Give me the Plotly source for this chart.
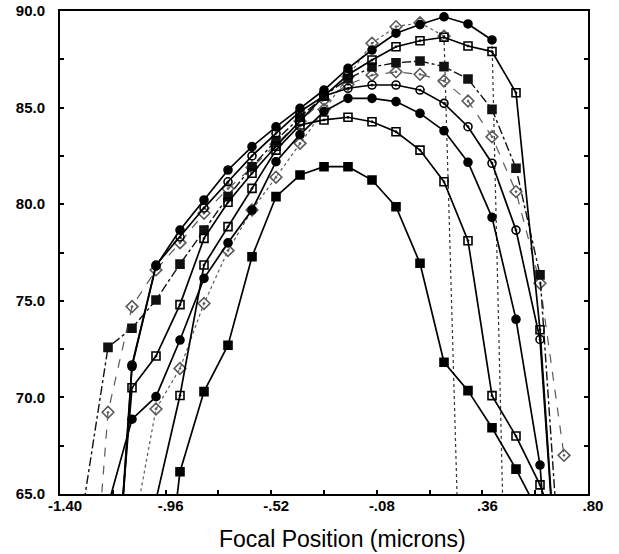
import plotly.graph_objects as go

# ---------------- data ----------------
xA = [-1.2, -1.1, -1.0, -0.9, -0.8, -0.7, -0.6, -0.5, -0.4, -0.3, -0.2, -0.1, 0.0, 0.1, 0.2, 0.3, 0.4, 0.5]
yA = [53.0, 71.6, 76.8, 78.66, 80.22, 81.77, 82.98, 84.0, 84.96, 85.91, 87.03, 87.98, 88.85, 89.3, 89.7, 89.33, 88.5, 35.0]

xB = [-1.1, -1.0, -0.9, -0.8, -0.7, -0.6, -0.5, -0.4, -0.3, -0.2, -0.1, 0.0, 0.1, 0.2, 0.3]
yB = [62.7, 69.4, 71.5, 74.86, 77.6, 79.7, 81.4, 83.15, 84.9, 86.6, 88.33, 89.19, 89.39, 88.7, 45.0]

xC = [-1.2, -1.1, -1.0, -0.9, -0.8, -0.7, -0.6, -0.5, -0.4, -0.3, -0.2, -0.1, 0.0, 0.1, 0.2, 0.3, 0.4, 0.5, 0.6, 0.7]
yC = [55.6, 70.5, 72.14, 74.8, 78.23, 80.1, 81.6, 83.0, 84.3, 85.6, 86.7, 87.46, 88.15, 88.46, 88.64, 88.19, 87.9, 85.77, 73.5, 55.0]

xD = [-1.3, -1.2, -1.1, -1.0, -0.9, -0.8, -0.7, -0.6, -0.5, -0.4, -0.3, -0.2, -0.1, 0.0, 0.1, 0.2, 0.3, 0.4, 0.5, 0.6, 0.7]
yD = [64.6, 72.59, 73.58, 75.04, 76.9, 78.66, 80.39, 81.94, 83.3, 84.5, 85.6, 86.5, 87.1, 87.32, 87.41, 87.12, 86.48, 84.91, 81.86, 76.34, 58.0]

xE = [-1.3, -1.2, -1.1, -1.0, -0.9, -0.8, -0.7, -0.6, -0.5, -0.4, -0.3, -0.2, -0.1, 0.0, 0.1, 0.2, 0.3, 0.4, 0.5, 0.6, 0.7]
yE = [53.0, 69.23, 74.7, 76.6, 78.0, 79.53, 80.8, 81.9, 83.1, 84.3, 85.4, 86.2, 86.68, 86.85, 86.72, 86.38, 85.34, 83.49, 80.65, 75.91, 67.0]

xH = [-1.2, -1.1, -1.0, -0.9, -0.8, -0.7, -0.6, -0.5, -0.4, -0.3, -0.2, -0.1, 0.0, 0.1, 0.2, 0.3, 0.4, 0.5, 0.6, 0.7]
yH = [53.6, 71.68, 76.85, 78.3, 79.8, 81.16, 82.5, 83.67, 84.8, 85.6, 86.0, 86.17, 86.17, 85.91, 85.22, 84.01, 82.12, 78.66, 73.0, 55.0]

xJ = [-1.2, -1.1, -1.0, -0.9, -0.8, -0.7, -0.6, -0.5, -0.4, -0.3, -0.2, -0.1, 0.0, 0.1, 0.2, 0.3, 0.4, 0.5, 0.6, 0.7]
yJ = [64.4, 68.87, 70.04, 72.97, 76.16, 78.0, 79.7, 82.2, 83.6, 84.8, 85.48, 85.48, 85.31, 84.7, 83.8, 82.17, 79.32, 74.04, 66.5, 50.0]

xI = [-1.0, -0.9, -0.8, -0.7, -0.6, -0.5, -0.4, -0.3, -0.2, -0.1, 0.0, 0.1, 0.2, 0.3, 0.4, 0.5, 0.6, 0.7]
yI = [64.7, 70.1, 76.85, 78.84, 80.82, 82.8, 84.1, 84.36, 84.5, 84.27, 83.75, 82.8, 81.16, 78.11, 70.09, 68.0, 65.47, 62.0]

xK = [-1.0, -0.9, -0.8, -0.7, -0.6, -0.5, -0.4, -0.3, -0.2, -0.1, 0.0, 0.1, 0.2, 0.3, 0.4, 0.5, 0.6]
yK = [55.7, 66.15, 70.3, 72.7, 77.28, 80.39, 81.51, 81.94, 81.94, 81.25, 79.87, 76.94, 71.82, 70.35, 68.43, 66.29, 63.9]

x_tickvals = [-1.40, -0.96, -0.52, -0.08, 0.36, 0.80]
x_ticktext = ["-1.40", "-.96", "-.52", "-.08", ".36", ".80"]
y_tickvals = [65, 70, 75, 80, 85, 90]
y_ticktext = ["65.0", "70.0", "75.0", "80.0", "85.0", "90.0"]
x_title = "Focal Position (microns)"

X_RANGE = [-1.40, 0.80]
Y_RANGE = [65, 90]

# ---------------- figure ----------------
BLACK = "#000000"
GRAY = "#5a5a5a"
FONT = "Liberation Sans, Arial, Helvetica, sans-serif"

# (x, y, symbol, colour, dash, line width, marker size)
series = [
    (xB[:-1], yB[:-1], "diamond-open-dot", GRAY, "dot", 1.2, 9),
    (xE, yE, "diamond-open-dot", GRAY, "dash", 1.2, 9),
    (xD, yD, "square", "#111111", "dashdot", 1.4, 8),
    (xK, yK, "square", BLACK, "solid", 1.7, 8),
    (xI, yI, "square-open-dot", BLACK, "solid", 1.7, 8),
    (xJ, yJ, "circle", BLACK, "solid", 1.7, 8),
    (xH, yH, "circle-open-dot", BLACK, "solid", 1.7, 8),
    (xC, yC, "square-open-dot", BLACK, "solid", 1.7, 8),
    (xA[:-1], yA[:-1], "circle", BLACK, "solid", 1.7, 8),
]

fig = go.Figure()
# steep final drops of the two top curves are drawn dotted in the reference
for xs, ys in [(xB[-2:], yB[-2:]), (xA[-2:], yA[-2:])]:
    fig.add_trace(go.Scatter(x=xs, y=ys, mode="lines",
                             line=dict(color="#333333", width=1.2, dash="dot"),
                             showlegend=False, hoverinfo="skip"))
for xs, ys, sym, col, dash, lw, ms in series:
    fig.add_trace(go.Scatter(
        x=xs, y=ys, mode="lines+markers",
        line=dict(color=col, width=lw, dash=dash),
        marker=dict(symbol=sym, size=ms, color=col, line=dict(color=col, width=1.6)),
        showlegend=False, cliponaxis=True,
    ))

tickfont = dict(family=FONT, size=15, color="black", weight="bold")
tick_common = dict(tickwidth=2, tickcolor="black", ticklen=4)

fig.update_layout(
    width=619, height=554,
    margin=dict(l=60, r=31, t=11, b=60, autoexpand=False),
    paper_bgcolor="white", plot_bgcolor="white",
    font=dict(family=FONT, color="black"),
    xaxis=dict(
        range=X_RANGE, tickvals=x_tickvals, ticktext=x_ticktext,
        showgrid=False, zeroline=False, automargin=False,
        showline=True, linecolor="black", linewidth=2, mirror=True,
        ticks="inside", **tick_common,
        minor=dict(dtick=0.22, tick0=-1.40, ticks="inside", **tick_common),
        tickfont=tickfont, ticklabelshift=5, ticklabelstandoff=-3,
    ),
    xaxis2=dict(
        range=X_RANGE, overlaying="x", anchor="y", side="bottom",
        tickvals=x_tickvals, showticklabels=False,
        showgrid=False, zeroline=False, showline=False, automargin=False,
        ticks="outside", **tick_common,
        minor=dict(dtick=0.22, tick0=-1.40, ticks="outside", **tick_common),
    ),
    yaxis=dict(
        range=Y_RANGE, tickvals=y_tickvals, ticktext=y_ticktext,
        showgrid=False, zeroline=False, automargin=False,
        showline=True, linecolor="black", linewidth=2, mirror="ticks",
        ticks="inside", **tick_common,
        minor=dict(dtick=2.5, tick0=65, ticks="inside", **tick_common),
        tickfont=tickfont, ticklabelstandoff=10,
    ),
    yaxis2=dict(
        range=Y_RANGE, overlaying="y", anchor="x", side="left",
        tickvals=y_tickvals, showticklabels=False,
        showgrid=False, zeroline=False, showline=False, automargin=False,
        ticks="outside", **tick_common,
        minor=dict(dtick=2.5, tick0=65, ticks="outside", **tick_common),
    ),
    yaxis3=dict(
        range=Y_RANGE, overlaying="y", anchor="x", side="right",
        tickvals=y_tickvals, showticklabels=False,
        showgrid=False, zeroline=False, showline=False, automargin=False,
        ticks="outside", **tick_common,
        minor=dict(dtick=2.5, tick0=65, ticks="outside", **tick_common),
    ),
    annotations=[dict(
        text=x_title, xref="paper", yref="paper", x=0.535, y=-0.093,
        xanchor="center", yanchor="middle", showarrow=False,
        font=dict(family=FONT, size=23, color="black"),
    )],
)

fig.write_html(
    "out.html",
    config={"displayModeBar": False},
    post_script="document.body.style.margin='0';document.body.style.overflow='hidden';",
)
